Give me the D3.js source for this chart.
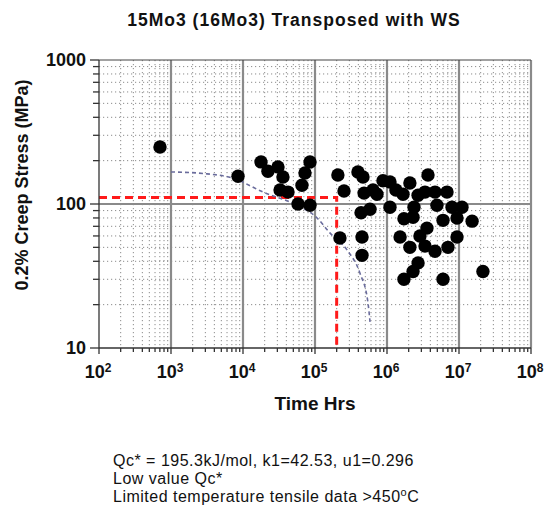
<!DOCTYPE html>
<meta charset="utf-8">
<head>
    <!-- Load d3.js -->
    <script src="https://d3js.org/d3.v7.min.js"></script>
</head>
<style>
    body { margin: 0; background-color: white; }
    text { font-family: "Liberation Sans", Arial, sans-serif; fill: #111; }
    .bold { font-weight: bold; }
</style>
<body>
<div id="my_dataviz"></div>
<script>

    // test points: rupture time (hours) and 0.2% creep stress (MPa)
    var hours = [703, 8530, 17800, 22200, 30600, 35900, 32700, 42200, 58100, 85300,
                 85300, 72600, 65900, 208000, 253000, 222000, 395000, 464000, 480000, 436000,
                 450000, 450000, 639000, 879000, 1100000, 726000, 1100000, 581000, 2080000, 1670000,
                 2370000, 1720000, 3710000, 1520000, 2080000, 2870000, 3370000, 2700000, 2300000, 1720000,
                 3370000, 4640000, 4940000, 8000000, 11000000, 2300000, 3590000, 6000000, 9380000, 15200000,
                 9380000, 4640000, 7030000, 6000000, 21500000, 1330000, 2700000, 6810000];
    var stress = [249, 156, 196, 169, 181, 154, 125, 121, 100, 98,
                  196, 164, 135, 159, 123, 58, 167, 154, 119, 87,
                  59, 44, 125, 145, 142, 117, 95, 92, 140, 117,
                  95, 79, 159, 59, 50, 60, 51, 39, 34, 30,
                  121, 121, 98, 95, 95, 81, 68, 77, 80, 76,
                  59, 47, 50, 30, 34, 125, 115, 121];

    // fitted curve (blue dashed)
    var curveHours = [1000, 3160, 7030, 19000, 56200, 107000, 161000, 278000, 422000, 545000, 581000];
    var curveStress = [167, 162, 152, 121, 98, 80, 63, 48, 33, 20.5, 15.2];

    // red reference lines
    var refStress = 111;
    var refHours = 200000;

    // tick labels
    var xExponents = [2, 3, 4, 5, 6, 7, 8];
    var yTickValues = [10, 100, 1000];
    var notes = ["Qc* = 195.3kJ/mol, k1=42.53, u1=0.296", "Low value Qc*", "Limited temperature tensile data >450"];

    var width = 556, height = 521;
    var plotL = 99, plotR = 531, plotT = 60, plotB = 348;

    var svg = d3.select("#my_dataviz").append("svg")
        .attr("width", width)
        .attr("height", height);

    svg.append("rect").attr("width", width).attr("height", height).attr("fill", "white");

    var x = d3.scaleLog().domain([1e2, 1e8]).range([plotL, plotR]);
    var y = d3.scaleLog().domain([10, 1000]).range([plotB, plotT]);

    // minor values 2..9 in each decade
    var xMinor = [], yMinor = [];
    xExponents.slice(0, -1).forEach(function(e) {
        for (var m = 2; m <= 9; m++) xMinor.push(m * Math.pow(10, e));
    });
    [10, 100].forEach(function(d) {
        for (var m = 2; m <= 9; m++) yMinor.push(m * d);
    });

    var grid = svg.append("g");

    // dotted minor grid
    grid.selectAll(".vminor").data(xMinor).enter().append("line")
        .attr("x1", function(d) { return x(d); }).attr("x2", function(d) { return x(d); })
        .attr("y1", plotT).attr("y2", plotB)
        .attr("stroke", "#8c8c8c").attr("stroke-width", 1)
        .attr("stroke-dasharray", "1.2,2.8");
    grid.selectAll(".hminor").data(yMinor).enter().append("line")
        .attr("x1", plotL).attr("x2", plotR)
        .attr("y1", function(d) { return y(d); }).attr("y2", function(d) { return y(d); })
        .attr("stroke", "#8c8c8c").attr("stroke-width", 1)
        .attr("stroke-dasharray", "1.2,2.8");

    // major grid
    grid.selectAll(".vmajor").data(xExponents.slice(1)).enter().append("line")
        .attr("x1", function(d) { return x(Math.pow(10, d)); }).attr("x2", function(d) { return x(Math.pow(10, d)); })
        .attr("y1", plotT).attr("y2", plotB)
        .attr("stroke", "#8a8a8a").attr("stroke-width", 2.2);
    grid.append("line")
        .attr("x1", plotL).attr("x2", plotR)
        .attr("y1", y(100)).attr("y2", y(100))
        .attr("stroke", "#8a8a8a").attr("stroke-width", 2.2);

    // top border
    grid.append("line")
        .attr("x1", plotL).attr("x2", plotR)
        .attr("y1", plotT).attr("y2", plotT)
        .attr("stroke", "#444").attr("stroke-width", 1.2);

    // red dashed reference lines
    svg.append("path")
        .attr("d", "M" + plotL + "," + y(refStress) + "H" + x(refHours) + "V" + plotB)
        .attr("fill", "none")
        .attr("stroke", "#ff1a1a").attr("stroke-width", 3)
        .attr("stroke-dasharray", "8,5");

    // fitted curve
    var line = d3.line()
        .x(function(d) { return x(d[0]); })
        .y(function(d) { return y(d[1]); })
        .curve(d3.curveMonotoneX);
    svg.append("path")
        .datum(d3.zip(curveHours, curveStress))
        .attr("d", line)
        .attr("fill", "none")
        .attr("stroke", "#6a6c9c").attr("stroke-width", 1.6)
        .attr("stroke-dasharray", "4,3");

    // points
    svg.append("g").selectAll("circle")
        .data(d3.zip(hours, stress))
        .enter().append("circle")
        .attr("cx", function(d) { return x(d[0]); })
        .attr("cy", function(d) { return y(d[1]); })
        .attr("r", 6.7)
        .attr("fill", "black");

    // axes lines
    var axes = svg.append("g").attr("stroke", "#333").attr("stroke-width", 1.3);
    axes.append("line").attr("x1", plotL).attr("x2", plotL).attr("y1", plotT).attr("y2", plotB);
    axes.append("line").attr("x1", plotL).attr("x2", plotR).attr("y1", plotB).attr("y2", plotB);

    // y ticks
    axes.selectAll(".ytm").data(yTickValues).enter().append("line")
        .attr("x1", plotL - 9).attr("x2", plotL)
        .attr("y1", function(d) { return y(d); }).attr("y2", function(d) { return y(d); });
    axes.selectAll(".ytn").data(yMinor).enter().append("line")
        .attr("x1", plotL - 6).attr("x2", plotL)
        .attr("y1", function(d) { return y(d); }).attr("y2", function(d) { return y(d); });

    // x ticks
    axes.selectAll(".xtm").data(xExponents).enter().append("line")
        .attr("x1", function(d) { return x(Math.pow(10, d)); }).attr("x2", function(d) { return x(Math.pow(10, d)); })
        .attr("y1", plotB).attr("y2", plotB + 6);
    axes.selectAll(".xtn").data(xMinor).enter().append("line")
        .attr("x1", function(d) { return x(d); }).attr("x2", function(d) { return x(d); })
        .attr("y1", plotB).attr("y2", plotB + 4);

    // y tick labels
    svg.selectAll(".ylab").data(yTickValues).enter().append("text")
        .attr("class", "bold")
        .attr("x", 86)
        .attr("y", function(d) { return y(d) + 6; })
        .attr("text-anchor", "end")
        .style("font-size", "18px")
        .text(function(d) { return d; });

    // x tick labels with superscript exponent
    var xl = svg.selectAll(".xlab").data(xExponents).enter().append("text")
        .attr("class", "bold")
        .attr("x", function(d) { return x(Math.pow(10, d)) - 1; })
        .attr("y", 378)
        .attr("text-anchor", "middle")
        .style("font-size", "18px");
    xl.append("tspan").text("10");
    xl.append("tspan").attr("dy", -6).style("font-size", "12px").text(function(d) { return d; });

    // titles
    svg.append("text")
        .attr("class", "bold")
        .attr("x", 294).attr("y", 26)
        .attr("text-anchor", "middle")
        .style("font-size", "17.5px")
        .style("letter-spacing", "1px")
        .text("15Mo3 (16Mo3) Transposed with WS");

    svg.append("text")
        .attr("class", "bold")
        .attr("x", 315).attr("y", 410)
        .attr("text-anchor", "middle")
        .style("font-size", "19px")
        .text("Time Hrs");

    svg.append("text")
        .attr("class", "bold")
        .attr("transform", "translate(28,185) rotate(-90)")
        .attr("text-anchor", "middle")
        .style("font-size", "18px")
        .text("0.2% Creep Stress (MPa)");

    // notes under the chart
    var noteY = [466, 484, 502];
    notes.forEach(function(t, i) {
        var n = svg.append("text")
            .attr("x", 113).attr("y", noteY[i])
            .style("font-size", "16px")
            .style("letter-spacing", "0.5px")
            .text(t);
        if (i == 2) {
            n.append("tspan").attr("dy", -6).style("font-size", "11px").text("o");
            n.append("tspan").attr("dy", 6).text("C");
        }
    });

</script>
</body>
